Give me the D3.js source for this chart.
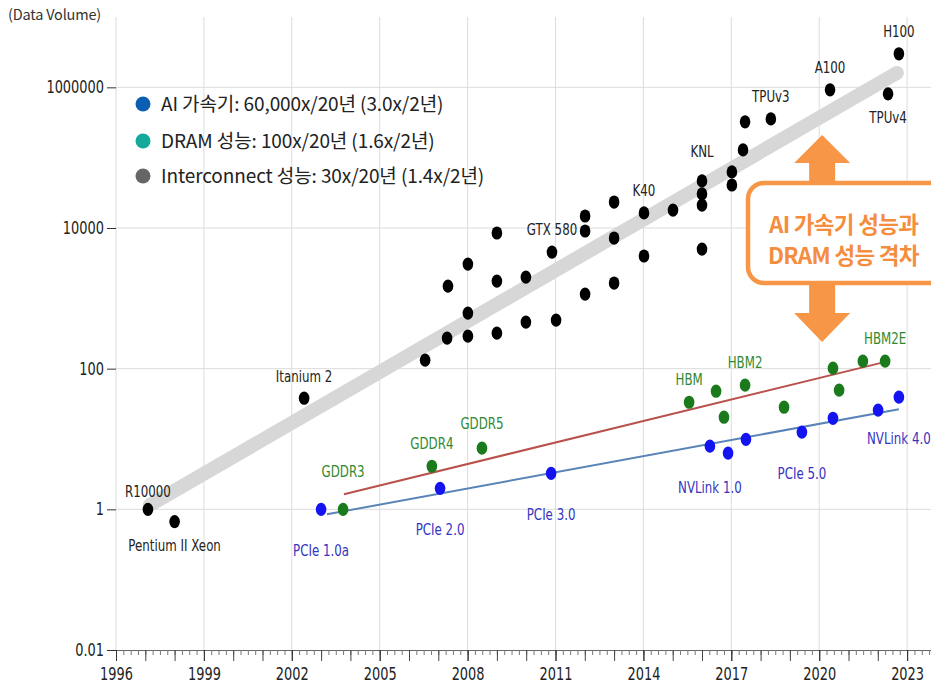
<!DOCTYPE html>
<html>
<head>
<meta charset="utf-8">
<script src="https://cdnjs.cloudflare.com/ajax/libs/d3/7.8.5/d3.min.js"></script>
<style>
	body { margin: 0; background: #fff; }
	svg { display: block; }
	.lbl, .axis text { font-family: 'DejaVu Sans', Verdana, sans-serif; }
	.ko { font-family: 'Noto Sans CJK KR', 'Noto Sans', sans-serif; }
</style>
</head>
<body>
<div id="chart"></div>
<script>
// AI accelerator points (black)
const aiYear	= [1997.09, 1998.0, 2002.42, 2006.55, 2007.30, 2007.33, 2008.01, 2008.01, 2008.01, 2009.0, 2009.0, 2009.0,
				   2009.99, 2009.99, 2010.88, 2011.02, 2012.01, 2012.01, 2012.01, 2013.0, 2013.0, 2013.0, 2014.02, 2014.02,
				   2015.01, 2016.0, 2016.0, 2016.0, 2016.0, 2017.02, 2017.02, 2017.40, 2017.47, 2018.35, 2020.37, 2022.35, 2022.72];
const aiValue	= [1, 0.67, 38, 132, 272, 1490, 3070, 617, 290, 8490, 1760, 320,
				   2000, 459, 4550, 490, 14800, 9060, 1150, 23400, 7200, 1650, 16400, 4000,
				   18000, 46700, 30500, 21200, 5020, 62700, 40900, 129000, 323000, 356000, 921000, 808000, 3000000];
const aiLabel	= ['R10000', 'Pentium II Xeon', 'Itanium 2', '', '', '', '', '', '', '', '', '',
				   '', '', 'GTX 580', '', '', '', '', '', '', '', 'K40', '',
				   '', 'KNL', '', '', '', '', '', '', '', 'TPUv3', 'A100', 'TPUv4', 'H100'];

// DRAM points (green)
const dramYear	= [2003.75, 2006.78, 2008.49, 2015.56, 2016.48, 2016.75, 2017.47, 2018.80, 2020.47, 2020.68, 2021.49, 2022.25];
const dramValue	= [1.0, 4.1, 7.4, 33.3, 47.8, 20.4, 58.2, 28.3, 101.6, 49.4, 128, 128];
const dramLabel	= ['GDDR3', 'GDDR4', 'GDDR5', 'HBM', '', '', 'HBM2', '', '', '', '', 'HBM2E'];

// Interconnect points (blue)
const linkYear	= [2003.0, 2007.06, 2010.85, 2016.27, 2016.89, 2017.50, 2019.41, 2020.47, 2022.01, 2022.72];
const linkValue	= [1.0, 1.99, 3.25, 7.9, 6.3, 9.9, 12.5, 19.7, 25.7, 39.3];
const linkLabel	= ['PCIe 1.0a', 'PCIe 2.0', 'PCIe 3.0', 'NVLink 1.0', '', '', 'PCIe 5.0', '', '', 'NVLink 4.0'];

// trend lines: [start, end]
const aiTrendYear		= [1997.15, 2022.65];
const aiTrendValue		= [1.15, 1600000];
const dramTrendYear		= [2003.78, 2022.08];
const dramTrendValue	= [1.64, 120];
const linkTrendYear		= [2003.2, 2022.72];
const linkTrendValue	= [0.85, 26.5];

const xTicks	= [1996, 1999, 2002, 2005, 2008, 2011, 2014, 2017, 2020, 2023];
const yTicks	= [0.01, 1, 100, 10000, 1000000];

const legendText	= ['AI 가속기: 60,000x/20년 (3.0x/2년)', 'DRAM 성능: 100x/20년 (1.6x/2년)', 'Interconnect 성능: 30x/20년 (1.4x/2년)'];
const legendColor	= ['#0b5fb3', '#13a99b', '#666666'];

const gapYear	= 2020.1;
const gapText	= ['AI 가속기 성능과', 'DRAM 성능 격차'];

// label baseline shift from point centre
let labelShift	= { 'R10000': -12, 'Pentium II Xeon': 29, 'TPUv4': 29, 'KNL': -24, 'Itanium 2': -16, 'GDDR3': -32, 'GDDR5': -19 };

let canvasWidth		= 931;
let canvasHeight	= 684;
let squeeze			= 0.74;

let x	= d3.scaleLinear().domain([1996, 2024]).range([116, 116 + 28 * 29.3]);
let y	= d3.scaleLog().domain([0.01, 1e7]).range([650, 17]);

let svg = d3.select('#chart').append('svg')
	.attr('width', canvasWidth)
	.attr('height', canvasHeight);

// grid
svg.append('g')
	.attr('id', 'grid-x')
	.selectAll('line')
	.data(xTicks)
	.enter().append('line')
		.attr('x1', (o) => x(o)).attr('x2', (o) => x(o))
		.attr('y1', y(1e7)).attr('y2', y(0.01))
		.attr('stroke', '#dcdcdc');

svg.append('g')
	.attr('id', 'grid-y')
	.selectAll('line')
	.data(yTicks.slice(1))
	.enter().append('line')
		.attr('x1', x(1996)).attr('x2', canvasWidth)
		.attr('y1', (o) => y(o)).attr('y2', (o) => y(o))
		.attr('stroke', '#dcdcdc');

// axes
let minorTicks	= d3.range(1996, 2024, 0.25);
let yearTicks	= d3.range(1996, 2024, 1);

svg.append('g')
	.attr('class', 'axis')
	.attr('transform', 'translate(0,' + y(0.01) + ')')
	.call(d3.axisBottom(x).tickValues(minorTicks).tickSize(5).tickSizeOuter(0).tickFormat(''))
	.call((g) => g.selectAll('line').attr('stroke', '#777'))
	.call((g) => g.select('.domain').attr('stroke', '#666'));

svg.append('g')
	.attr('class', 'axis')
	.attr('transform', 'translate(0,' + y(0.01) + ')')
	.call(d3.axisBottom(x).tickValues(yearTicks).tickSize(11).tickSizeOuter(0).tickFormat(''))
	.call((g) => g.selectAll('line').attr('stroke', '#444'))
	.call((g) => g.select('.domain').remove());

svg.append('g')
	.attr('class', 'axis')
	.attr('transform', 'translate(0,' + y(0.01) + ')')
	.call(d3.axisBottom(x).tickValues(xTicks).tickSize(11).tickSizeOuter(0).tickFormat(d3.format('d')))
	.call((g) => g.select('.domain').remove())
	.call((g) => g.selectAll('line').attr('stroke', '#333'))
	.selectAll('text')
		.attr('y', 18)
		.attr('font-size', 17.5)
		.attr('fill', '#222')
		.attr('transform', 'scale(' + squeeze + ',1)');

svg.append('g')
	.attr('class', 'axis')
	.attr('transform', 'translate(' + x(1996) + ',0)')
	.call(d3.axisLeft(y).tickValues(yTicks).tickSize(9).tickFormat((o) => String(o)))
	.call((g) => g.select('.domain').remove())
	.call((g) => g.selectAll('line').attr('stroke', '#333'))
	.selectAll('text')
		.attr('x', -12 / squeeze)
		.attr('font-size', 17.5)
		.attr('fill', '#222')
		.attr('transform', 'scale(' + squeeze + ',1)');

svg.append('text')
	.attr('class', 'ko')
	.attr('x', 8).attr('y', 20)
	.attr('font-size', 14.5)
	.attr('letter-spacing', -0.2)
	.attr('fill', '#333')
	.text('(Data Volume)');

// trend lines
let trend = (years, values) => d3.line()
	.x((o) => x(o[0]))
	.y((o) => y(o[1]))(d3.zip(years, values));

svg.append('path')
	.attr('d', trend(aiTrendYear, aiTrendValue))
	.attr('stroke', '#d7d7d7').attr('stroke-width', 14)
	.attr('stroke-linecap', 'round').attr('fill', 'none');

svg.append('path')
	.attr('d', trend(dramTrendYear, dramTrendValue))
	.attr('stroke', '#b9514c').attr('stroke-width', 2).attr('fill', 'none');

svg.append('path')
	.attr('d', trend(linkTrendYear, linkTrendValue))
	.attr('stroke', '#5a84b8').attr('stroke-width', 2).attr('fill', 'none');

// points + labels
function drawSeries(id, years, values, labels, dotColor, textColor, defaultShift) {
	let data	= d3.zip(years, values, labels).map((o) => ({ year: o[0], value: o[1], label: o[2] }));
	let group	= svg.append('g').attr('id', id);

	group.selectAll('ellipse')
		.data(data)
		.enter().append('ellipse')
			.attr('cx', (o) => x(o.year))
			.attr('cy', (o) => y(o.value))
			.attr('rx', 5.3)
			.attr('ry', 6.6)
			.attr('fill', dotColor);

	group.selectAll('text')
		.data(data.filter((o) => o.label))
		.enter().append('text')
			.attr('class', 'lbl')
			.attr('text-anchor', 'middle')
			.attr('font-size', 16)
			.attr('fill', textColor)
			.attr('transform', (o) => 'translate(' + x(o.year) + ',' + (y(o.value) + (labelShift[o.label] || defaultShift)) + ') scale(' + squeeze + ',1)')
			.text((o) => o.label);
}

drawSeries('ai', aiYear, aiValue, aiLabel, '#000', '#222', -17);
drawSeries('dram', dramYear, dramValue, dramLabel, '#1b7a1b', '#2f8a2f', -17);
drawSeries('link', linkYear, linkValue, linkLabel, '#1414f0', '#3535c0', 47);

// legend
let legend = svg.append('g').attr('id', 'legend')
	.selectAll('g')
	.data(legendText)
	.enter().append('g')
		.attr('transform', (o, i) => 'translate(143,' + [104, 141, 176][i] + ')');

legend.append('circle')
	.attr('r', 7.5)
	.attr('fill', (o, i) => legendColor[i]);

legend.append('text')
	.attr('class', 'ko')
	.attr('x', 18).attr('y', 7)
	.attr('font-size', 19)
	.attr('letter-spacing', -0.1)
	.attr('fill', '#222')
	.text((o) => o);

// gap annotation
let cx		= x(gapYear);
let orange	= '#f79646';

svg.append('path')
	.attr('d', 'M' + cx + ',135 L' + (cx + 28) + ',163 L' + (cx + 13) + ',163 L' + (cx + 13) + ',186 L' + (cx - 13) + ',186 L' + (cx - 13) + ',163 L' + (cx - 28) + ',163 Z')
	.attr('fill', orange);

svg.append('path')
	.attr('d', 'M' + cx + ',342 L' + (cx + 28) + ',313 L' + (cx + 13) + ',313 L' + (cx + 13) + ',281 L' + (cx - 13) + ',281 L' + (cx - 13) + ',313 L' + (cx - 28) + ',313 Z')
	.attr('fill', orange);

svg.append('rect')
	.attr('x', 748).attr('y', 183)
	.attr('width', 260).attr('height', 100)
	.attr('rx', 16)
	.attr('fill', '#fff')
	.attr('stroke', orange)
	.attr('stroke-width', 4.5);

svg.append('g')
	.selectAll('text')
	.data(gapText)
	.enter().append('text')
		.attr('class', 'ko')
		.attr('x', (o, i) => [769, 768][i])
		.attr('y', (o, i) => [233, 264][i])
		.attr('font-size', 22.5)
		.attr('font-weight', 700)
		.attr('letter-spacing', -0.7)
		.attr('fill', '#f58d3f')
		.text((o) => o);
</script>
</body>
</html>
